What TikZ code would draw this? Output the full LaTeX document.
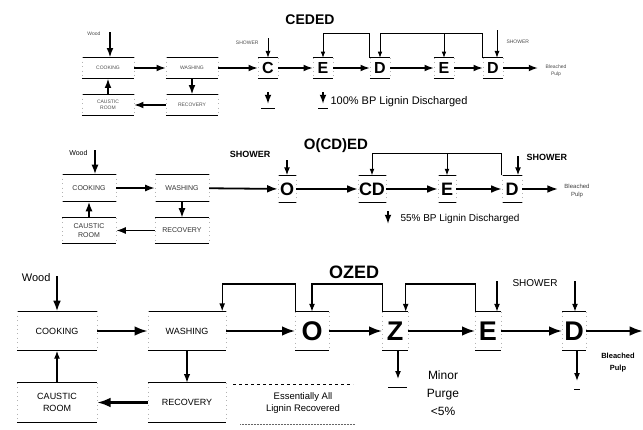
\documentclass[tikz,border=0pt]{standalone}
\usepackage{fontspec}
\setmainfont{Liberation Sans}
\usetikzlibrary{arrows.meta}

\tikzset{
  tank/.style={inner sep=0pt, align=center,
    append after command={
      (\tikzlastnode.north west) edge[line width=.8pt] (\tikzlastnode.north east)
      (\tikzlastnode.south west) edge[line width=.8pt] (\tikzlastnode.south east)
      (\tikzlastnode.north west) edge[loosely dotted,black!30,line width=.4pt] (\tikzlastnode.south west)
      (\tikzlastnode.north east) edge[loosely dotted,black!30,line width=.4pt] (\tikzlastnode.south east)}},
  unita/.style={tank, minimum width=52pt, minimum height=21pt, text=black!70,
    font=\fontsize{5}{6}\selectfont},
  unitb/.style={tank, minimum width=54pt, minimum height=27pt, text=black!80,
    font=\fontsize{7}{9}\selectfont},
  unitc/.style={tank, minimum width=78pt, minimum height=39pt,
    font=\fontsize{9}{12}\selectfont},
  stagea/.style={tank, minimum width=20pt, minimum height=20pt,
    font=\fontsize{16}{16}\selectfont\bfseries},
  stageb/.style={tank, minimum height=27pt,
    font=\fontsize{18}{18}\selectfont\bfseries},
  stagec/.style={tank, minimum height=38pt,
    font=\fontsize{27}{27}\selectfont\bfseries},
}

\begin{document}
\begin{tikzpicture}[x=1pt,y=-1pt,>={Latex[length=2.5pt 4.5,width=2pt 3.2]}]
\useasboundingbox (0,0) rectangle (643,429);

% CEDED
\node[font=\fontsize{14}{14}\selectfont\bfseries] (t1) at (310,20) {CEDED};
\node[unita] (cook1) at (108,68) {COOKING};
\node[unita] (wash1) at (192,68) {WASHING};
\node[unita] (caus1) at (108,105) {CAUSTIC\\ROOM};
\node[unita] (rec1) at (192,105) {RECOVERY};
\node[stagea] (c1) at (268,68) {C};
\node[stagea] (e1) at (323,68) {E};
\node[stagea] (d1) at (380,68) {D};
\node[stagea] (e1b) at (444,68) {E};
\node[stagea] (d1b) at (493,68) {D};
\coordinate (out1) at (538,68);
\coordinate (w1) at (110,32);
\coordinate (sh1) at (268,38);
\coordinate (sh1b) at (497,30);
\coordinate (top1) at (0,33);
\node[left,font=\fontsize{5}{6}\selectfont,text=black!70] (wl1) at (104,34) {Wood};
\node[left,font=\fontsize{5}{6}\selectfont,text=black!70] (shl1) at (262,43) {SHOWER};
\node[right,font=\fontsize{5}{6}\selectfont,text=black!70] (shl1b) at (503,42) {SHOWER};
\node[align=center,font=\fontsize{5}{7}\selectfont,text=black!70] (bp1) at (556,71) {Bleached\\Pulp};
\draw[->,line width=1.5pt] (w1) -- (w1 |- cook1.north);
\draw[->,line width=1.5pt] (cook1) -- (wash1);
\draw[->,line width=1.5pt] (caus1.north) -- (cook1.south);
\draw[->,line width=1.5pt] (wash1.south) -- (rec1.north);
\draw[->,line width=1.5pt] (rec1) -- (caus1);
\draw[->,line width=1.5pt] (wash1) -- (c1);
\draw[->,line width=1.5pt] (c1) -- (e1);
\draw[->,line width=1.5pt] (e1) -- (d1);
\draw[->,line width=1.5pt] (d1) -- (e1b);
\draw[->,line width=1.5pt] (e1b) -- (d1b);
\draw[->,line width=1.5pt] (d1b) -- (out1);
\draw[->,line width=1pt] (sh1) -- (c1.north);
\draw[->,line width=1pt] (sh1b) -- (sh1b |- d1b.north);
\draw[->,line width=.8pt] (d1.north west) -- (d1.north west |- top1) -| (e1.north);
\draw[->,line width=.8pt] (d1b.north west) -- (d1b.north west |- top1) -| (d1.north);
\draw[->,line width=.8pt] (e1b.north |- top1) -- (e1b.north);
% discharge
\draw[->,line width=1.5pt] (268,92) -- (268,104);
\draw[line width=.8pt] (261,108) -- (275,108);
\draw[->,line width=1.5pt] (323,92) -- (323,104);
\draw[line width=.8pt] (318,108) -- (328,108);
\node[right,font=\fontsize{11}{12}\selectfont] (dis1) at (327,102) {100\% BP Lignin Discharged};

% O(CD)ED
\node[font=\fontsize{15}{15}\selectfont\bfseries] (t2) at (336,146) {O(CD)ED};
\node[unitb] (cook2) at (89,188) {COOKING};
\node[unitb] (wash2) at (182,188) {WASHING};
\node[unitb,minimum height=25pt] (caus2) at (89,230.5) {CAUSTIC\\ROOM};
\node[unitb,minimum height=25pt] (rec2) at (182,230.5) {RECOVERY};
\node[stageb,minimum width=18pt] (o2) at (287,189) {O};
\node[stageb,minimum width=28pt] (cd2) at (372,189) {CD};
\node[stageb,minimum width=18pt] (e2) at (447,189) {E};
\node[stageb,minimum width=20pt] (d2) at (512,189) {D};
\coordinate (out2) at (558,189);
\coordinate (w2) at (95,150);
\coordinate (sh2) at (287,160);
\coordinate (sh2b) at (518,156);
\coordinate (top2) at (0,153);
\node[left,font=\fontsize{7}{8}\selectfont] (wl2) at (91,153) {Wood};
\node[font=\fontsize{9}{10}\selectfont\bfseries] (shl2) at (250,154) {SHOWER};
\node[right,font=\fontsize{9}{10}\selectfont\bfseries] (shl2b) at (523,157) {SHOWER};
\node[align=center,font=\fontsize{6}{8}\selectfont,text=black!75] (bp2) at (577,191) {Bleached\\Pulp};
\draw[->,line width=1.6pt] (w2) -- (w2 |- cook2.north);
\draw[->,line width=1.6pt] (cook2) -- (wash2);
\draw[->,line width=1.6pt] (caus2.north) -- (cook2.south);
\draw[->,line width=1.6pt] (wash2.south) -- (rec2.north);
\draw[->,line width=1.6pt] (rec2) -- (caus2);
\draw[->,line width=1.8pt] (wash2) -- (o2);
\draw[->,line width=1.8pt] (o2) -- (cd2);
\draw[->,line width=1.8pt] (cd2) -- (e2);
\draw[->,line width=1.8pt] (e2) -- (d2);
\draw[->,line width=1.8pt] (d2) -- (out2);
\draw[->,line width=1.2pt] (sh2) -- (o2.north);
\draw[->,line width=1.2pt] (sh2b) -- (sh2b |- d2.north);
\draw[->,line width=.9pt] (d2.north west) -- (d2.north west |- top2) -| (cd2.north);
\draw[->,line width=.9pt] (e2.north |- top2) -- (e2.north);
% discharge
\draw[->,line width=1.5pt] (388,211) -- (388,224);
\node[right,font=\fontsize{10}{11}\selectfont] (dis2) at (397,219) {55\% BP Lignin Discharged};

% OZED
\node[font=\fontsize{18}{18}\selectfont\bfseries] (t3) at (354,272) {OZED};
\node[unitc,minimum width=80pt] (cook3) at (57,331) {COOKING};
\node[unitc] (wash3) at (187,331) {WASHING};
\node[unitc,minimum width=80pt] (caus3) at (57,402.5) {CAUSTIC\\ROOM};
\node[unitc] (rec3) at (187,402.5) {RECOVERY};
\node[stagec,minimum width=33pt] (o3) at (312,331) {O};
\node[stagec,minimum width=25pt] (z3) at (395,331) {Z};
\node[stagec,minimum width=25pt] (e3) at (488,331) {E};
\node[stagec,minimum width=23pt] (d3) at (574,331) {D};
\coordinate (out3) at (643,331);
\coordinate (w3) at (57,276);
\coordinate (sh3) at (497,281);
\coordinate (sh3b) at (575,281);
\coordinate (top3) at (0,284);
\coordinate (dz3) at (398,379);
\coordinate (dd3) at (577,381);
\node[left,font=\fontsize{11}{12}\selectfont] (wl3) at (54,278) {Wood};
\node[font=\fontsize{10}{11}\selectfont] (shl3) at (535,283) {SHOWER};
\node[align=center,font=\fontsize{7.5}{12}\selectfont\bfseries] (bp3) at (618,363) {Bleached\\Pulp};
\node[align=center,font=\fontsize{12}{18}\selectfont] (mp3) at (443,393) {Minor\\Purge\\<5\%};
\node[align=center,font=\fontsize{9.5}{12}\selectfont] (ea3) at (303,403) {Essentially All\\Lignin Recovered};
\draw[->,line width=1.8pt] (w3) -- (w3 |- cook3.north);
\draw[->,line width=2.4pt] (cook3) -- (wash3);
\draw[->,line width=1.2pt] (caus3.north) -- (cook3.south);
\draw[->,line width=1.4pt] (wash3.south) -- (rec3.north);
\draw[->,line width=2.4pt] (rec3) -- (caus3);
\draw[->,line width=2.4pt] (wash3) -- (o3);
\draw[->,line width=2.4pt] (o3) -- (z3);
\draw[->,line width=2.4pt] (z3) -- (e3);
\draw[->,line width=2.4pt] (e3) -- (d3);
\draw[->,line width=2.4pt] (d3) -- (out3);
\draw[->,line width=1.2pt] (o3.north west) -- (o3.north west |- top3) -| ([xshift=-4pt]wash3.north east);
\draw[->,line width=1.2pt] (z3.north west) -- (z3.north west |- top3) -| (o3.north);
\draw[->,line width=1.2pt] (e3.north west) -- (e3.north west |- top3) -| ([xshift=-2pt]z3.north east);
\draw[->,line width=1.2pt] (sh3) -- (sh3 |- e3.north);
\draw[->,line width=1.2pt] (sh3b) -- (sh3b |- d3.north);
\draw[->,line width=1.2pt] (dz3 |- z3.south) -- (dz3);
\draw[line width=.8pt] (388,387) -- (407,387);
\draw[->,line width=1.2pt] (dd3 |- d3.south) -- (dd3);
\draw[line width=.6pt] (574,389) -- (580,389);
\draw[dashed,line width=.5pt] (233,384) -- (353,384);
\draw[densely dotted,line width=.5pt,black!60] (240,424) -- (355,424);
\end{tikzpicture}
\end{document}
